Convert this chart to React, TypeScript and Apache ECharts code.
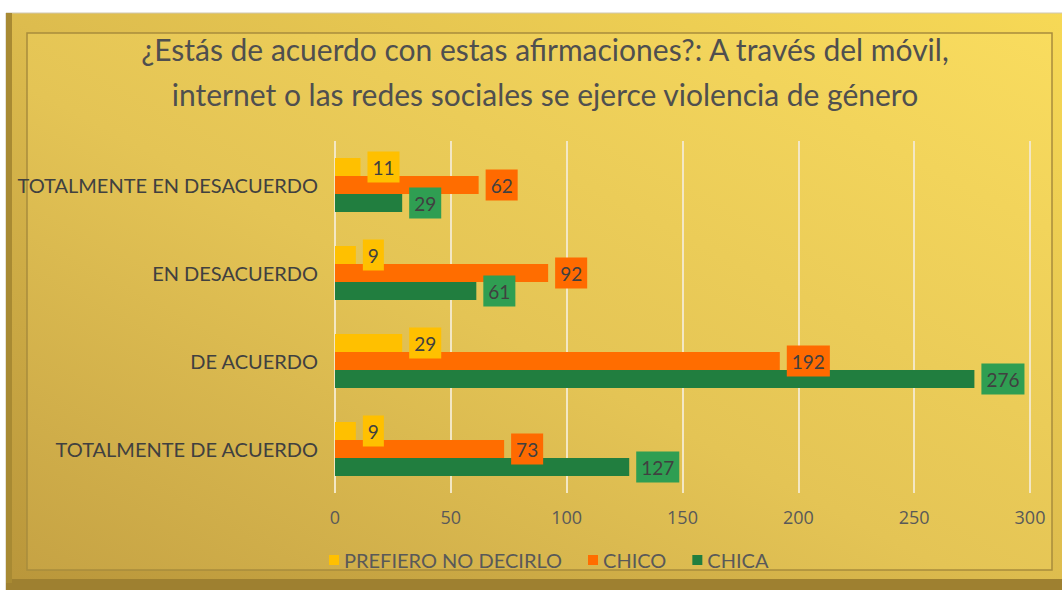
import React, { useEffect, useRef } from "react";
import * as echarts from "echarts";

const categories = [
  "TOTALMENTE EN DESACUERDO",
  "EN DESACUERDO",
  "DE ACUERDO",
  "TOTALMENTE DE ACUERDO",
];
const prefieroNoDecirlo = [11, 9, 29, 9];
const chico = [62, 92, 192, 73];
const chica = [29, 61, 276, 127];
const xTicks = [0, 50, 100, 150, 200, 250, 300];
const titleText =
  "¿Estás de acuerdo con estas afirmaciones?: A través del móvil,\ninternet o las redes sociales se ejerce violencia de género";

const FONT = "Lato";

export default function App() {
  const ref = useRef<HTMLDivElement>(null);
  useEffect(() => {
    if (!ref.current) return;
    const chart = echarts.init(ref.current, undefined, { renderer: "svg" });
    const bg = new echarts.graphic.LinearGradient(0, 1, 1, 0, [
      { offset: 0, color: "#C6A344" },
      { offset: 0.45, color: "#E4C455" },
      { offset: 1, color: "#F9DC5E" },
    ]);
    const frame = new echarts.graphic.LinearGradient(0, 1, 1, 0, [
      { offset: 0, color: "#B8953A" },
      { offset: 0.5, color: "#DDBC4E" },
      { offset: 1, color: "#F7D956" },
    ]);
    const mkLabel = (bgc: string) => ({
      show: true,
      position: "right" as const,
      distance: 7,
      backgroundColor: bgc,
      padding: [6, 5, 6, 5],
      color: "#404040",
      fontFamily: FONT,
      fontSize: 19,
      lineHeight: 19,
    });
    chart.setOption({
      animation: false,
      backgroundColor: "#ffffff",
      graphic: [
        {
          type: "rect",
          z: -10,
          shape: { x: 6, y: 13, width: 1070, height: 590 },
          style: { fill: frame, stroke: "#CFC7B0", lineWidth: 1 },
          silent: true,
        },
        {
          type: "rect",
          z: -10,
          shape: { x: 6, y: 579, width: 1070, height: 20 },
          style: { fill: "#9E8030" },
          silent: true,
        },
        {
          type: "rect",
          z: -10,
          shape: { x: 6, y: 13, width: 6, height: 570 },
          style: { fill: "#A88A33" },
          silent: true,
        },
        {
          type: "rect",
          z: -9,
          shape: { x: 27, y: 33, width: 1025, height: 537 },
          style: { fill: bg, stroke: "#A88C3C", lineWidth: 1.5 },
          silent: true,
        },
      ],
      title: {
        text: titleText,
        left: 540,
        textAlign: "center",
        top: 21,
        textStyle: {
          fontFamily: FONT,
          fontSize: 30,
          fontWeight: "normal",
          color: "#4F4F4F",
          lineHeight: 45,
        },
      },
      legend: {
        data: ["PREFIERO NO DECIRLO", "CHICO", "CHICA"],
        bottom: 15,
        left: 324,
        icon: "rect",
        itemWidth: 10,
        itemHeight: 10,
        itemGap: 26,
        textStyle: { fontFamily: FONT, fontSize: 20, color: "#595959" },
      },
      grid: { left: 335, right: 32, top: 141, bottom: 97, containLabel: false },
      xAxis: {
        type: "value",
        min: xTicks[0],
        max: xTicks[xTicks.length - 1],
        interval: xTicks[1] - xTicks[0],
        axisLine: { show: false },
        axisTick: { show: false },
        splitLine: { show: true, lineStyle: { color: "#F3E7C4", width: 2 } },
        axisLabel: {
          color: "#595959",
          fontFamily: "Open Sans",
          fontSize: 18,
          margin: 15,
        },
      },
      yAxis: {
        type: "category",
        data: categories,
        inverse: true,
        axisLine: { show: false },
        axisTick: { show: false },
        axisLabel: {
          color: "#404040",
          fontFamily: FONT,
          fontSize: 20,
          margin: 17,
        },
      },
      series: [
        {
          name: "PREFIERO NO DECIRLO",
          type: "bar",
          data: prefieroNoDecirlo,
          barWidth: 18,
          barGap: "0%",
          itemStyle: { color: "#FFC000" },
          label: mkLabel("#FFC000"),
        },
        {
          name: "CHICO",
          type: "bar",
          data: chico,
          barWidth: 18,
          barGap: "0%",
          itemStyle: { color: "#FF6D00" },
          label: mkLabel("#FF6A00"),
        },
        {
          name: "CHICA",
          type: "bar",
          data: chica,
          barWidth: 18,
          barGap: "0%",
          itemStyle: { color: "#217E3F" },
          label: mkLabel("#2F9E52"),
        },
      ],
    });
    return () => chart.dispose();
  }, []);
  return (
    <div
      ref={ref}
      style={{ position: "fixed", left: 0, top: 0, width: 1062, height: 590 }}
    />
  );
}
